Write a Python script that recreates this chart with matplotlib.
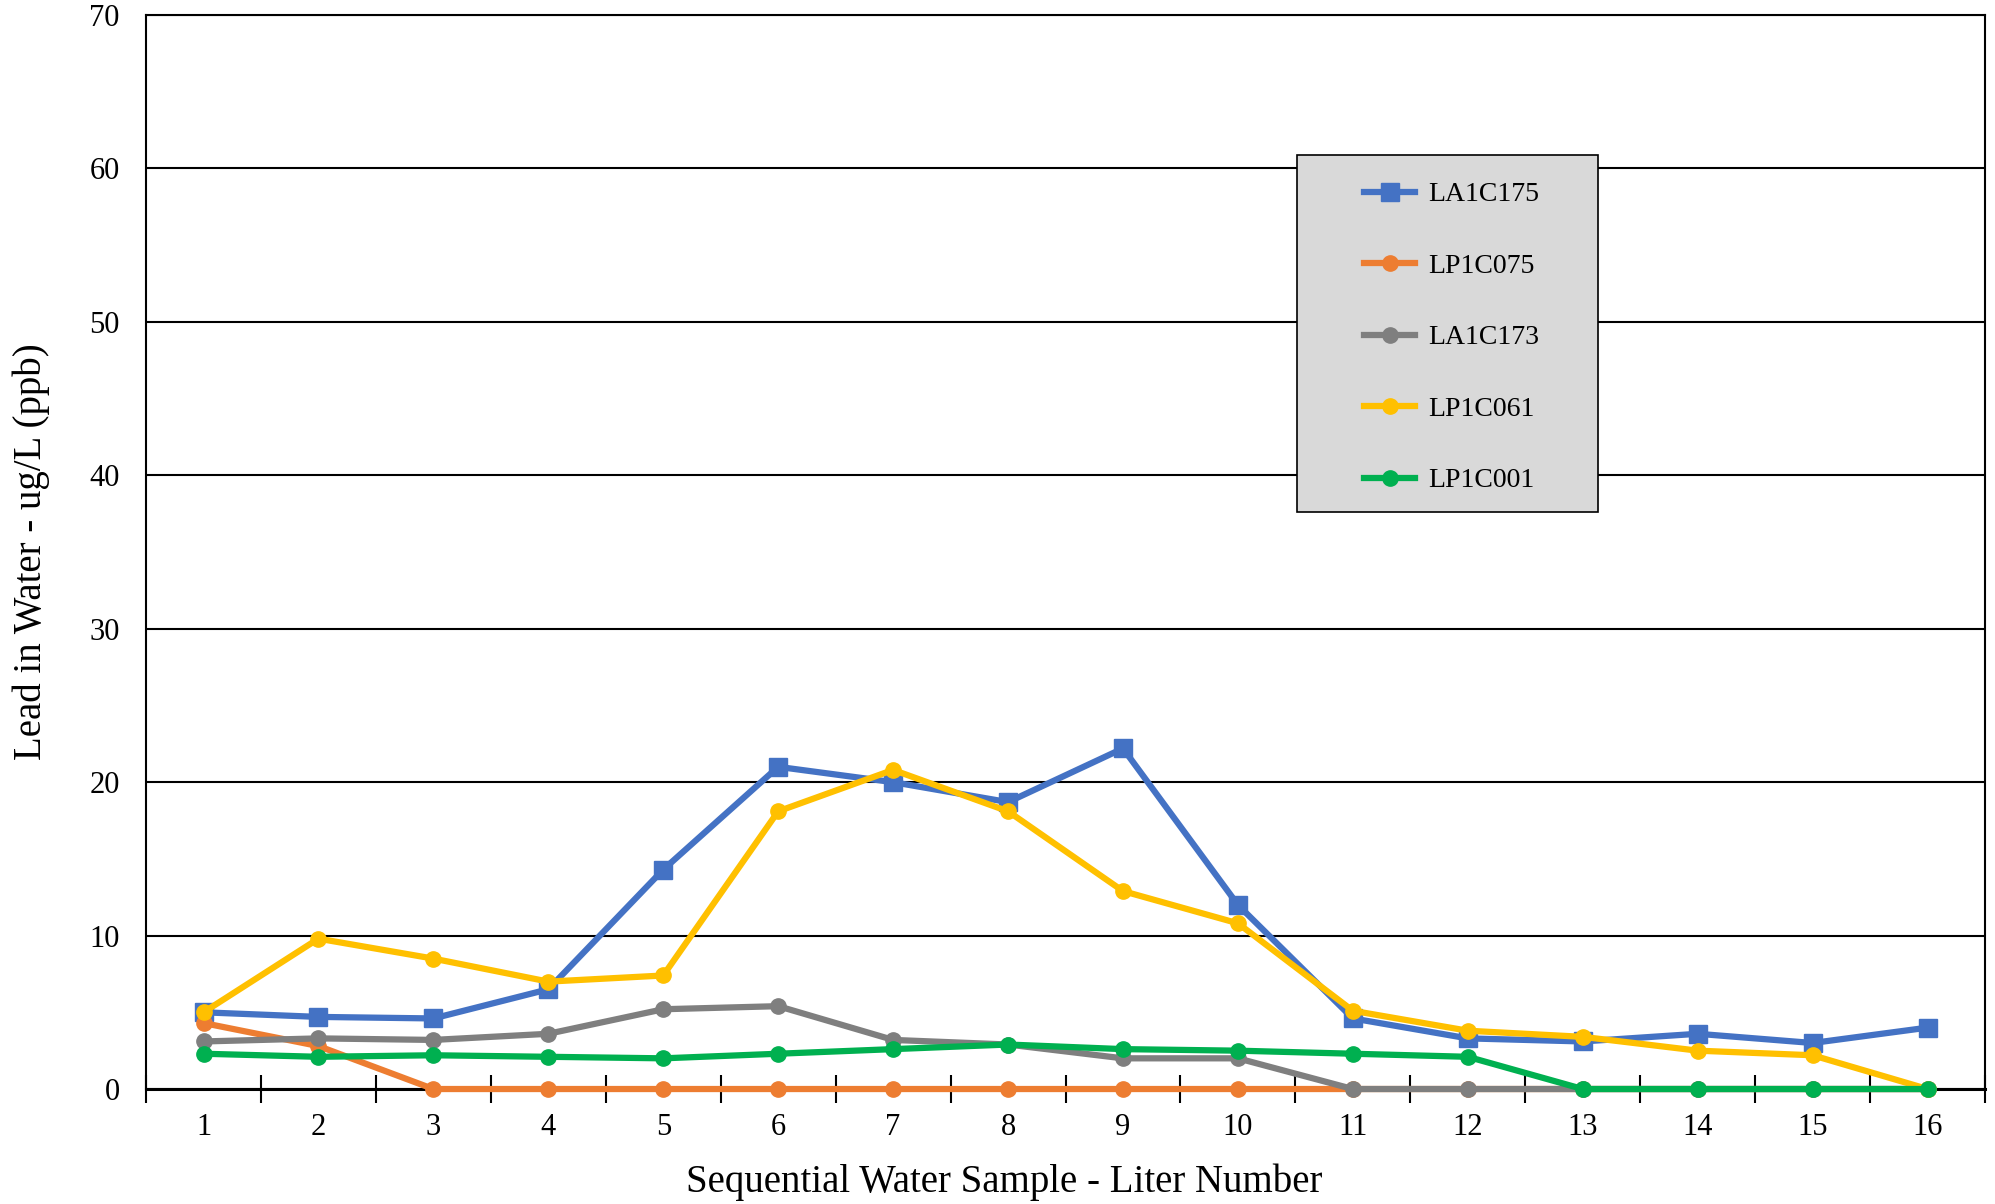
import matplotlib
matplotlib.use("Agg")
import matplotlib.pyplot as plt
from matplotlib.patches import Rectangle

plt.rcParams['font.family'] = ['Liberation Serif', 'DejaVu Serif']

liters = list(range(1, 17))
series_names = ["LA1C175", "LP1C075", "LA1C173", "LP1C061", "LP1C001"]
la1c175 = [5.0, 4.7, 4.6, 6.5, 14.3, 21.0, 20.0, 18.7, 22.2, 12.0, 4.6, 3.3, 3.1, 3.6, 3.0, 4.0]
lp1c075 = [4.3, 2.8, 0, 0, 0, 0, 0, 0, 0, 0, 0, 0, 0, 0, 0, 0]
la1c173 = [3.1, 3.3, 3.2, 3.6, 5.2, 5.4, 3.2, 2.9, 2.0, 2.0, 0, 0, 0, 0, 0, 0]
lp1c061 = [5.0, 9.8, 8.5, 7.0, 7.4, 18.1, 20.8, 18.1, 12.9, 10.8, 5.1, 3.8, 3.4, 2.5, 2.2, 0]
lp1c001 = [2.3, 2.1, 2.2, 2.1, 2.0, 2.3, 2.6, 2.9, 2.6, 2.5, 2.3, 2.1, 0, 0, 0, 0]
y_ticks = [0, 10, 20, 30, 40, 50, 60, 70]

values = [la1c175, lp1c075, la1c173, lp1c061, lp1c001]
colors = ["#4472C4", "#ED7D31", "#7F7F7F", "#FFC000", "#00B050"]
markers = ["s", "o", "o", "o", "o"]
msizes = [13, 11, 11, 11, 11]

fig = plt.figure(figsize=(19.95, 12.04), dpi=100)
ax = fig.add_axes([0.0732, 0.0955, 0.9218, 0.892])

for name, vals, c, m, ms in zip(series_names, values, colors, markers, msizes):
    ax.plot(liters, vals, color=c, lw=4.5, marker=m, markersize=ms,
            label=name, solid_joinstyle='round', clip_on=False, zorder=3)

ax.set_xlim(0.5, 16.5)
ax.set_ylim(0, 70)
ax.set_yticks(y_ticks)
ax.set_xticks(liters)
ax.set_xticks([i + 0.5 for i in range(0, 17)], minor=True)
ax.yaxis.grid(True, color='black', lw=1.5, zorder=1)
ax.set_axisbelow(True)

ax.tick_params(axis='x', which='major', length=0, pad=17, labelsize=22)
ax.tick_params(axis='x', which='minor', direction='inout', length=20, width=1.5)
ax.tick_params(axis='y', which='major', length=0, pad=19, labelsize=22)

for side in ['left', 'right', 'top', 'bottom']:
    ax.spines[side].set_color('black')
    ax.spines[side].set_linewidth(1.5)
ax.spines['bottom'].set_linewidth(2.2)

ax.set_xlabel("Sequential Water Sample - Liter Number", fontsize=28, va='center')
ax.xaxis.set_label_coords(0.4666, -0.0865)
ax.set_ylabel("Lead in Water - ug/L (ppb)", fontsize=28, va='center')
ax.yaxis.set_label_coords(-0.0625, 0.5)

# legend box
fig.patches.append(Rectangle((0.6501, 0.5748), 0.1509, 0.2965, transform=fig.transFigure,
                             facecolor='#D9D9D9', edgecolor='black', lw=1.2, zorder=5))
leg = fig.legend(loc='upper left', bbox_to_anchor=(0.6837, 0.849), frameon=False,
                 fontsize=20, handlelength=1.85, handletextpad=0.45, labelspacing=1.66,
                 borderpad=0, borderaxespad=0, numpoints=1)
leg.set_zorder(6)

fig.savefig("out.png", dpi=100)
